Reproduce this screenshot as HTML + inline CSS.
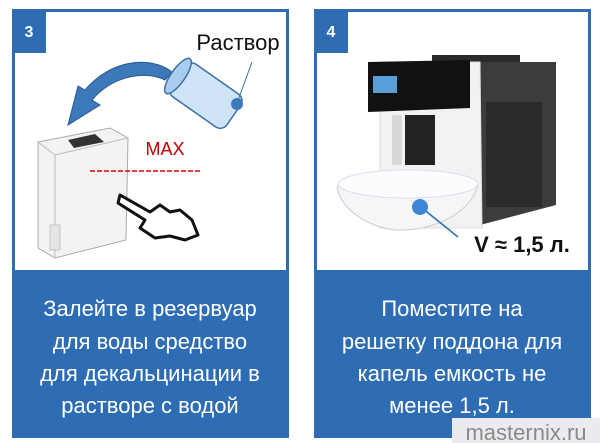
<!DOCTYPE html>
<html><head><meta charset="utf-8"><style>
html,body{margin:0;padding:0;background:#fff;width:600px;height:443px;overflow:hidden}
svg{display:block}
text{font-family:"Liberation Sans","DejaVu Sans",sans-serif}
</style></head><body>
<svg width="600" height="443" viewBox="0 0 600 443">
<!-- left panel -->
<rect x="13.5" y="10.5" width="274" height="426" fill="#fff" stroke="#2e6db4" stroke-width="3"/>
<rect x="12" y="270" width="277" height="167" fill="#2e6db4"/>
<rect x="12" y="9" width="34" height="44" fill="#2e6db4"/>
<text x="29" y="37" fill="#fff" font-size="16" font-weight="bold" text-anchor="middle">3</text>
<text x="238" y="50" font-size="22" text-anchor="middle" fill="#111">Раствор</text>
<!-- arrow -->
<path d="M172 72 C150 55 110 60 85 90 L78 86 L68 125 L100 105 L92 100 C112 76 145 70 165 80 Z" fill="#3d78bb" stroke="#2a5a90" stroke-width="1"/>
<!-- glass -->
<g transform="rotate(35 205 95)">
<rect x="172" y="75" width="68" height="40" rx="8" fill="#cfe4f7" stroke="#3a6fa8" stroke-width="1.5"/>
<ellipse cx="172" cy="95" rx="7" ry="21" fill="#a9cdec" stroke="#3a6fa8" stroke-width="1.5"/>
</g>
<line x1="237" y1="103" x2="252" y2="62" stroke="#3a6fa8" stroke-width="1"/>
<circle cx="237" cy="104" r="6" fill="#3d78bb"/>
<!-- tank -->
<path d="M38 142 L110 128 L128 138 L126 240 L55 258 L38 248 Z" fill="#f3f3f3" stroke="#aaa" stroke-width="1"/>
<path d="M38 142 L55 155 L128 138 M55 155 L55 258" fill="none" stroke="#bbb" stroke-width="1"/>
<path d="M68 140 L95 134 L104 142 L74 148 Z" fill="#333"/>
<rect x="50" y="225" width="10" height="25" fill="#e4e4e4" stroke="#bbb" stroke-width="0.8"/>
<text x="165" y="155" font-size="18" fill="#c00000" text-anchor="middle">MAX</text>
<line x1="90" y1="171" x2="200" y2="171" stroke="#d00" stroke-width="1.5" stroke-dasharray="5,2"/>
<!-- hand -->
<path d="M120 195 L150 212 L160 205 L170 212 L180 210 L192 220 L198 235 L185 240 L170 236 L155 238 L140 228 L145 220 L118 203 Z" fill="#fff" stroke="#111" stroke-width="3" stroke-linejoin="round"/>
<!-- right panel -->
<rect x="315.5" y="10.5" width="274" height="426" fill="#fff" stroke="#2e6db4" stroke-width="3"/>
<rect x="314" y="270" width="277" height="167" fill="#2e6db4"/>
<rect x="314" y="9" width="34" height="44" fill="#2e6db4"/>
<text x="331" y="37" fill="#fff" font-size="16" font-weight="bold" text-anchor="middle">4</text>
<!-- machine -->
<path d="M432 55 L520 55 L520 62 L432 62 Z" fill="#2a2a2a"/>
<path d="M480 62 L556 62 L556 205 L480 225 Z" fill="#3c3c3c"/>
<rect x="486" y="102" width="56" height="105" fill="#2b2b2b"/>
<path d="M380 62 L480 62 L482 228 L380 228 Z" fill="#f2f2f2" stroke="#ddd" stroke-width="1"/>
<path d="M368 62 L470 60 L470 108 L368 112 Z" fill="#111"/>
<rect x="373" y="76" width="24" height="17" fill="#5aa0d8"/>
<rect x="405" y="115" width="30" height="50" fill="#222"/>
<rect x="392" y="115" width="10" height="50" fill="#d8d8d8"/>
<!-- bowl -->
<path d="M337 187 C360 170 470 168 478 185 C470 215 430 232 395 230 C360 225 340 205 337 187 Z" fill="#f4f6f8" stroke="#ccc" stroke-width="1"/>
<ellipse cx="408" cy="184" rx="70" ry="14" fill="#fafcfe" stroke="#dde" stroke-width="1"/>
<line x1="422" y1="208" x2="458" y2="237" stroke="#2e6db4" stroke-width="1.5"/>
<circle cx="420" cy="207" r="8" fill="#3d86d6"/>
<text x="522" y="252" font-size="22" font-weight="bold" text-anchor="middle" fill="#111">V ≈ 1,5 л.</text>
<!-- bottom texts -->
<g fill="#fff" font-size="22" text-anchor="middle">
<text x="150" y="316">Залейте в резервуар</text>
<text x="150" y="349">для воды средство</text>
<text x="150" y="381">для декальцинации в</text>
<text x="150" y="413">растворе с водой</text>
<text x="452" y="316">Поместите на</text>
<text x="452" y="349">решетку поддона для</text>
<text x="452" y="381">капель емкость не</text>
<text x="452" y="413">менее 1,5 л.</text>
</g>
<rect x="452" y="418" width="148" height="25" fill="#e9ebee"/>
<text x="526" y="440" font-size="22" text-anchor="middle" fill="#8a8a8a">masternix.ru</text>
</svg>
</body></html>
